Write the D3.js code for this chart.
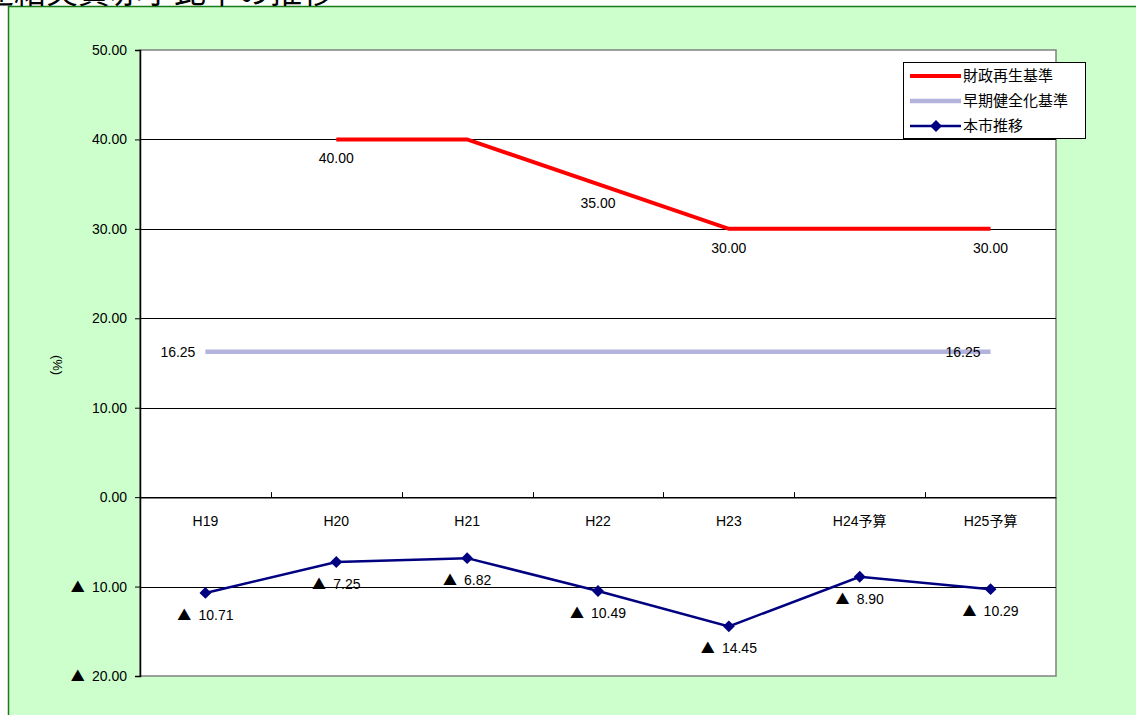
<!DOCTYPE html>
<html>
<head>
<meta charset="utf-8">
<script src="https://cdn.jsdelivr.net/npm/d3@7"></script>
<style>
  html, body { margin: 0; padding: 0; background: #ffffff; }
  svg { display: block; }
  text { font-family: "Liberation Sans", "Noto Sans CJK JP", sans-serif; fill: #000; }
  .tri { font-family: "Noto Sans CJK JP", sans-serif; }
</style>
</head>
<body>
<svg id="chart" width="1136" height="715"></svg>
<script>
// 年度区分
const categories = ["H19", "H20", "H21", "H22", "H23", "H24予算", "H25予算"];
// 財政再生基準 (%)
const saiseiValues = [null, 40.00, 40.00, 35.00, 30.00, 30.00, 30.00];
// 早期健全化基準 (%)
const soukiValues = [16.25, 16.25, 16.25, 16.25, 16.25, 16.25, 16.25];
// 本市推移 (%)  負値は黒字
const honshiValues = [-10.71, -7.25, -6.82, -10.49, -14.45, -8.90, -10.29];
// 縦軸目盛
const yTicks = [50, 40, 30, 20, 10, 0, -10, -20];
// データラベルを表示する項目
const saiseiLabelIdx = [1, 3, 4, 6];
const soukiLabelIdx = [0, 6];

const seriesNames = ["財政再生基準", "早期健全化基準", "本市推移"];

const fmt = v => (v < 0 ? "▲ " : "") + Math.abs(v).toFixed(2);

// 負値の ▲ は和文フォントで描く
function writeValue(sel, v) {
  sel.text(null);
  if (v < 0) sel.append("tspan").attr("class", "tri").text("▲ ");
  sel.append("tspan").attr("dx", v < 0 ? 4 : 0).text(Math.abs(v).toFixed(2));
}

const svg = d3.select("#chart");

// 外枠
svg.append("rect")
  .attr("x", 8.5).attr("y", 6.5)
  .attr("width", 1140).attr("height", 720)
  .attr("fill", "#ccffcc")
  .attr("stroke", "#1a7a1a").attr("stroke-width", 1.5);

// 表題
svg.append("text")
  .attr("x", -18).attr("y", 3)
  .attr("font-size", 32)
  .attr("font-family", "\"Noto Sans CJK JP\", sans-serif")
  .text("連結実質赤字比率の推移");

const plot = { left: 140, right: 1056, top: 50, bottom: 676 };

const x = d3.scaleBand()
  .domain(categories)
  .range([plot.left, plot.right])
  .paddingInner(0).paddingOuter(0);

const y = d3.scaleLinear()
  .domain([-20, 50])
  .range([plot.bottom, plot.top]);

const cx = c => x(c) + x.bandwidth() / 2;

// プロットエリア
svg.append("rect")
  .attr("x", plot.left).attr("y", plot.top)
  .attr("width", plot.right - plot.left)
  .attr("height", plot.bottom - plot.top)
  .attr("fill", "#ffffff")
  .attr("stroke", "#808080").attr("stroke-width", 1.5);

// 目盛線
svg.append("g")
  .selectAll("line")
  .data(yTicks.filter(t => t !== 50 && t !== -20))
  .join("line")
  .attr("x1", plot.left).attr("x2", plot.right)
  .attr("y1", d => Math.round(y(d)) + 0.5)
  .attr("y2", d => Math.round(y(d)) + 0.5)
  .attr("stroke", "#000").attr("stroke-width", 1);

// 縦軸
const yAxis = d3.axisLeft(y)
  .tickValues(yTicks)
  .tickSize(5)
  .tickPadding(8)
  .tickFormat(fmt);

const gy = svg.append("g")
  .attr("transform", `translate(${plot.left},0)`)
  .call(yAxis);
gy.select(".domain").attr("stroke", "#000").attr("stroke-width", 1.5);
gy.selectAll(".tick line").attr("stroke", "#000");
gy.selectAll(".tick text")
  .attr("font-size", 14)
  .attr("font-family", "\"Liberation Sans\", \"Noto Sans CJK JP\", sans-serif")
  .attr("fill", "#000")
  .each(function (d) { writeValue(d3.select(this), d); });

// 横軸（0 の位置）
const xAxis = d3.axisTop(x).tickSize(0).tickFormat("");
const gx = svg.append("g")
  .attr("transform", `translate(0,${Math.round(y(0)) + 0.5})`)
  .call(xAxis);
gx.select(".domain").attr("stroke", "#000").attr("stroke-width", 1);
gx.selectAll(".tick").remove();

// 区分の境界目盛
svg.append("g")
  .selectAll("line")
  .data(categories.slice(1))
  .join("line")
  .attr("x1", d => Math.round(x(d)) + 0.5)
  .attr("x2", d => Math.round(x(d)) + 0.5)
  .attr("y1", y(0) - 5).attr("y2", y(0))
  .attr("stroke", "#000");

// 区分ラベル
svg.append("g")
  .selectAll("text")
  .data(categories)
  .join("text")
  .attr("x", d => cx(d))
  .attr("y", y(0) + 29)
  .attr("text-anchor", "middle")
  .attr("font-size", 14)
  .text(d => d);

// 縦軸タイトル
svg.append("text")
  .attr("transform", `translate(53,365) rotate(90)`)
  .attr("text-anchor", "middle")
  .attr("font-size", 13)
  .attr("font-family", "\"Noto Sans CJK JP\", sans-serif")
  .text("(%)");

// 早期健全化基準
const soukiData = categories.map((c, i) => ({ c, v: soukiValues[i], i }));
svg.append("path")
  .datum(soukiData)
  .attr("fill", "none")
  .attr("stroke", "#b3b3de")
  .attr("stroke-width", 4.5)
  .attr("d", d3.line().x(d => cx(d.c)).y(d => y(d.v)));

// 財政再生基準
const saiseiData = categories.map((c, i) => ({ c, v: saiseiValues[i], i }));
svg.append("path")
  .datum(saiseiData)
  .attr("fill", "none")
  .attr("stroke", "#ff0000")
  .attr("stroke-width", 4)
  .attr("d", d3.line().defined(d => d.v !== null).x(d => cx(d.c)).y(d => y(d.v)));

// 本市推移
const honshiData = categories.map((c, i) => ({ c, v: honshiValues[i], i }));
svg.append("path")
  .datum(honshiData)
  .attr("fill", "none")
  .attr("stroke", "#000080")
  .attr("stroke-width", 2.5)
  .attr("d", d3.line().x(d => cx(d.c)).y(d => y(d.v)));

const diamond = d3.symbol().type(d3.symbolDiamond2).size(90);
svg.append("g")
  .selectAll("path")
  .data(honshiData)
  .join("path")
  .attr("transform", d => `translate(${cx(d.c)},${y(d.v)})`)
  .attr("d", diamond)
  .attr("fill", "#000080");

// データラベル
svg.append("g")
  .selectAll("text")
  .data(saiseiData.filter(d => saiseiLabelIdx.includes(d.i)))
  .join("text")
  .attr("x", d => cx(d.c))
  .attr("y", d => y(d.v) + 24)
  .attr("text-anchor", "middle")
  .attr("font-size", 14)
  .each(function (d) { writeValue(d3.select(this), d.v); });

svg.append("g")
  .selectAll("text")
  .data(soukiData.filter(d => soukiLabelIdx.includes(d.i)))
  .join("text")
  .attr("x", d => cx(d.c) - 10)
  .attr("y", d => y(d.v) + 5)
  .attr("text-anchor", "end")
  .attr("font-size", 14)
  .each(function (d) { writeValue(d3.select(this), d.v); });

svg.append("g")
  .selectAll("text")
  .data(honshiData)
  .join("text")
  .attr("x", d => cx(d.c))
  .attr("y", d => y(d.v) + 27)
  .attr("text-anchor", "middle")
  .attr("font-size", 14)
  .each(function (d) { writeValue(d3.select(this), d.v); });

// 凡例
const legend = svg.append("g").attr("transform", "translate(903,62)");
legend.append("rect")
  .attr("x", 0.5).attr("y", 0.5)
  .attr("width", 182).attr("height", 76)
  .attr("fill", "#ffffff")
  .attr("stroke", "#000").attr("stroke-width", 1);

const legendStyles = [
  { color: "#ff0000", width: 4, marker: false },
  { color: "#b3b3de", width: 4.5, marker: false },
  { color: "#000080", width: 2.5, marker: true }
];
seriesNames.forEach((name, i) => {
  const ly = 14 + i * 25;
  const s = legendStyles[i];
  legend.append("line")
    .attr("x1", 7).attr("x2", 58)
    .attr("y1", ly).attr("y2", ly)
    .attr("stroke", s.color).attr("stroke-width", s.width);
  if (s.marker) {
    legend.append("path")
      .attr("transform", `translate(33,${ly})`)
      .attr("d", diamond)
      .attr("fill", s.color);
  }
  legend.append("text")
    .attr("x", 60).attr("y", ly + 5)
    .attr("font-size", 15)
    .attr("font-family", "\"Noto Sans CJK JP\", sans-serif")
    .text(name);
});
</script>
</body>
</html>
